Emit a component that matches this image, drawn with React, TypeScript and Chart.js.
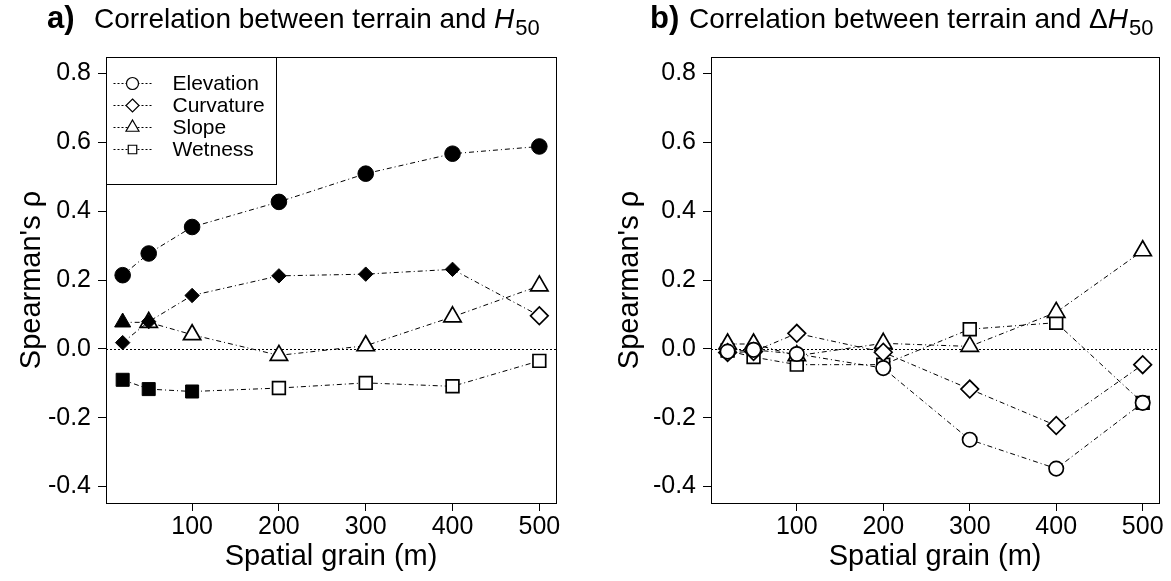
import React, { useEffect, useRef } from "react";
import { Chart, registerables } from "chart.js";
Chart.register(...registerables);

const FONT = "'Liberation Sans', Arial, Helvetica, sans-serif";

// ---- data ----
const grain = [20, 50, 100, 200, 300, 400, 500];
const seriesNames = ["Elevation", "Curvature", "Slope", "Wetness"];
const xTicks = [100, 200, 300, 400, 500];
const yTicks = [-0.4, -0.2, 0, 0.2, 0.4, 0.6, 0.8];

// panel a: correlation with H50
const elevationH50 = [0.214, 0.277, 0.354, 0.427, 0.509, 0.567, 0.588];
const curvatureH50 = [0.018, 0.079, 0.155, 0.212, 0.217, 0.231, 0.096];
const slopeH50 = [0.077, 0.077, 0.041, -0.019, 0.009, 0.093, 0.183];
const wetnessH50 = [-0.09, -0.117, -0.124, -0.114, -0.099, -0.109, -0.035];
// significance (1 = filled marker)
const elevationSigH50 = [1, 1, 1, 1, 1, 1, 1];
const curvatureSigH50 = [1, 1, 1, 1, 1, 1, 0];
const slopeSigH50 = [1, 0, 0, 0, 0, 0, 0];
const wetnessSigH50 = [1, 1, 1, 0, 0, 0, 0];

// panel b: correlation with delta H50
const elevationDH50 = [-0.008, -0.003, -0.015, -0.056, -0.264, -0.348, -0.157];
const curvatureDH50 = [-0.011, -0.008, 0.045, -0.01, -0.117, -0.223, -0.046];
const slopeDH50 = [0.014, 0.014, -0.02, 0.016, 0.007, 0.106, 0.285];
const wetnessDH50 = [-0.005, -0.024, -0.046, -0.046, 0.057, 0.076, -0.157];
const elevationSigDH50 = [0, 0, 0, 0, 0, 0, 0];
const curvatureSigDH50 = [0, 0, 0, 0, 0, 0, 0];
const slopeSigDH50 = [0, 0, 0, 0, 0, 0, 0];
const wetnessSigDH50 = [0, 0, 0, 0, 0, 0, 0];

// ---- styles ----
const pointStyles = ["circle", "rectRot", "triangle", "rect"];
const radFilled = [7.8, 7.2, 9.3, 9.2];
const radOpen = [7.2, 8.8, 10, 9];
const legendRad = [6, 6.5, 7.5, 6];
const LINE_DASH = [5, 3, 1, 3];

function buildDatasets(values: number[][], sig: number[][]) {
  return seriesNames.map((name, i) => ({
    label: name,
    data: grain.map((g, j) => ({ x: g, y: values[i][j] })),
    borderColor: "#000",
    borderWidth: 1,
    borderDash: LINE_DASH,
    pointStyle: pointStyles[i],
    pointRadius: sig[i].map((s) => (s ? radFilled[i] : radOpen[i])),
    pointHoverRadius: sig[i].map((s) => (s ? radFilled[i] : radOpen[i])),
    pointBackgroundColor: sig[i].map((s) => (s ? "#000" : "#fff")),
    pointBorderColor: "#000",
    pointBorderWidth: sig[i].map((s) => (s ? 1 : 1.7)),
    fill: false,
    tension: 0,
  }));
}

const framePlugin = {
  id: "frame",
  beforeDatasetsDraw(chart: any) {
    const { ctx, chartArea: ca, scales } = chart;
    const y0 = Math.round(scales.y.getPixelForValue(0)) + 0.5;
    ctx.save();
    ctx.strokeStyle = "#000";
    ctx.lineWidth = 1;
    ctx.setLineDash([2, 2]);
    ctx.beginPath();
    ctx.moveTo(ca.left, y0);
    ctx.lineTo(ca.right, y0);
    ctx.stroke();
    ctx.restore();
  },
  afterDatasetsDraw(chart: any) {
    const { ctx, chartArea: ca } = chart;
    ctx.save();
    ctx.strokeStyle = "#000";
    ctx.lineWidth = 1;
    ctx.strokeRect(
      Math.round(ca.left) + 0.5,
      Math.round(ca.top) + 0.5,
      Math.round(ca.right - ca.left),
      Math.round(ca.bottom - ca.top)
    );
    ctx.restore();
  },
};

function drawMarker(ctx: CanvasRenderingContext2D, style: string, x: number, y: number, r: number) {
  ctx.beginPath();
  if (style === "circle") {
    ctx.arc(x, y, r, 0, Math.PI * 2);
  } else if (style === "rectRot") {
    ctx.moveTo(x, y - r);
    ctx.lineTo(x + r, y);
    ctx.lineTo(x, y + r);
    ctx.lineTo(x - r, y);
  } else if (style === "triangle") {
    ctx.moveTo(x, y - r);
    ctx.lineTo(x + r * 0.866, y + r * 0.5);
    ctx.lineTo(x - r * 0.866, y + r * 0.5);
  } else {
    const s = r * Math.SQRT1_2;
    ctx.rect(x - s, y - s, 2 * s, 2 * s);
  }
  ctx.closePath();
  ctx.fill();
  ctx.stroke();
}

const boxLegendPlugin = {
  id: "boxLegend",
  afterDatasetsDraw(chart: any, _args: any, opts: any) {
    if (!opts || !opts.show) return;
    const { ctx, chartArea: ca } = chart;
    const x0 = Math.round(ca.left) + 0.5;
    const y0 = Math.round(ca.top) + 0.5;
    const w = 170;
    const h = 127;
    ctx.save();
    ctx.fillStyle = "#fff";
    ctx.fillRect(x0, y0, w, h);
    ctx.strokeStyle = "#000";
    ctx.lineWidth = 1;
    ctx.strokeRect(x0, y0, w, h);
    chart.data.datasets.forEach((ds: any, i: number) => {
      const cy = y0 + 26 + i * 22;
      ctx.save();
      ctx.setLineDash([2, 2]);
      ctx.lineWidth = 1;
      ctx.strokeStyle = "#000";
      ctx.beginPath();
      ctx.moveTo(x0 + 7, cy);
      ctx.lineTo(x0 + 46, cy);
      ctx.stroke();
      ctx.restore();
      ctx.save();
      ctx.fillStyle = "#fff";
      ctx.strokeStyle = "#000";
      ctx.lineWidth = 1.2;
      ctx.setLineDash([]);
      drawMarker(ctx, ds.pointStyle, x0 + 26, cy, legendRad[i]);
      ctx.restore();
      ctx.fillStyle = "#000";
      ctx.font = `21px ${FONT}`;
      ctx.textBaseline = "middle";
      ctx.textAlign = "left";
      ctx.fillText(ds.label, x0 + 66, cy + 1);
    });
    ctx.restore();
  },
};

const titlePlugin = {
  id: "panelTitle",
  afterDraw(chart: any, _args: any, o: any) {
    if (!o || !o.label) return;
    const ctx = chart.ctx;
    const base = 28;
    ctx.save();
    ctx.fillStyle = "#000";
    ctx.textBaseline = "alphabetic";
    ctx.textAlign = "left";
    ctx.font = `bold 31px ${FONT}`;
    ctx.fillText(o.label, o.labelX, base);
    ctx.font = `28px ${FONT}`;
    let x = o.textX;
    ctx.fillText(o.text, x, base);
    x += ctx.measureText(o.text).width;
    if (o.delta) {
      ctx.fillText("Δ", x, base);
      x += ctx.measureText("Δ").width;
    }
    ctx.font = `italic 28px ${FONT}`;
    ctx.fillText("H", x, base);
    x += ctx.measureText("H").width;
    ctx.font = `22px ${FONT}`;
    ctx.fillText("50", x + 1, base + 7);
    ctx.restore();
  },
};

function makeConfig(
  datasets: any[],
  yAxisWidth: number,
  rightPad: number,
  yTitlePad: number,
  legendShow: boolean,
  title: any
): any {
  return {
    type: "line",
    data: { datasets },
    plugins: [framePlugin, boxLegendPlugin, titlePlugin],
    options: {
      animation: false,
      responsive: false,
      devicePixelRatio: 1,
      events: [],
      layout: { padding: { left: 0, right: rightPad, top: 57, bottom: 0 } },
      plugins: {
        legend: { display: false },
        tooltip: { enabled: false },
        title: { display: false },
        boxLegend: { show: legendShow },
        panelTitle: title,
      },
      scales: {
        x: {
          type: "linear",
          position: "bottom",
          min: 0.8,
          max: 519.2,
          afterBuildTicks: (s: any) => {
            s.ticks = xTicks.map((v) => ({ value: v }));
          },
          afterFit: (s: any) => {
            s.height = 78;
          },
          grid: {
            drawOnChartArea: false,
            drawTicks: true,
            tickLength: 8,
            tickColor: "#000",
            tickWidth: 1,
          },
          border: { display: false },
          ticks: {
            color: "#000",
            font: { family: FONT, size: 25 },
            padding: 1,
            maxRotation: 0,
            autoSkip: false,
            callback: (v: any) => String(v),
          },
          title: {
            display: true,
            text: "Spatial grain (m)",
            color: "#000",
            font: { family: FONT, size: 29 },
            padding: { top: 0, bottom: 7 },
          },
        },
        y: {
          type: "linear",
          position: "left",
          min: -0.448,
          max: 0.848,
          afterBuildTicks: (s: any) => {
            s.ticks = yTicks.map((v) => ({ value: v }));
          },
          afterFit: (s: any) => {
            s.width = yAxisWidth;
          },
          grid: {
            drawOnChartArea: false,
            drawTicks: true,
            tickLength: 8,
            tickColor: "#000",
            tickWidth: 1,
          },
          border: { display: false },
          ticks: {
            color: "#000",
            font: { family: FONT, size: 25 },
            padding: 7,
            autoSkip: false,
            callback: (v: any) => Number(v).toFixed(1),
          },
          title: {
            display: true,
            text: "Spearman's ρ",
            color: "#000",
            font: { family: FONT, size: 29 },
            padding: { top: yTitlePad, bottom: 0 },
          },
        },
      },
    },
  };
}

export default function App() {
  const refA = useRef<HTMLCanvasElement>(null);
  const refB = useRef<HTMLCanvasElement>(null);

  useEffect(() => {
    const dsA = buildDatasets(
      [elevationH50, curvatureH50, slopeH50, wetnessH50],
      [elevationSigH50, curvatureSigH50, slopeSigH50, wetnessSigH50]
    );
    const dsB = buildDatasets(
      [elevationDH50, curvatureDH50, slopeDH50, wetnessDH50],
      [elevationSigDH50, curvatureSigDH50, slopeSigDH50, wetnessSigDH50]
    );
    const a = new Chart(
      refA.current as HTMLCanvasElement,
      makeConfig(dsA, 106, 29, 15, true, {
        label: "a)",
        labelX: 47,
        text: "Correlation between terrain and ",
        textX: 94,
        delta: false,
      })
    );
    const b = new Chart(
      refB.current as HTMLCanvasElement,
      makeConfig(dsB, 126, 11, 28, false, {
        label: "b)",
        labelX: 65,
        text: "Correlation between terrain and ",
        textX: 104,
        delta: true,
      })
    );
    return () => {
      a.destroy();
      b.destroy();
    };
  }, []);

  return (
    <div
      style={{
        position: "fixed",
        left: 0,
        top: 0,
        width: 1171,
        height: 581,
        background: "#fff",
        overflow: "hidden",
      }}
    >
      <canvas
        ref={refA}
        width={585}
        height={581}
        style={{ position: "absolute", left: 0, top: 0, width: 585, height: 581 }}
      />
      <canvas
        ref={refB}
        width={586}
        height={581}
        style={{ position: "absolute", left: 585, top: 0, width: 586, height: 581 }}
      />
    </div>
  );
}
